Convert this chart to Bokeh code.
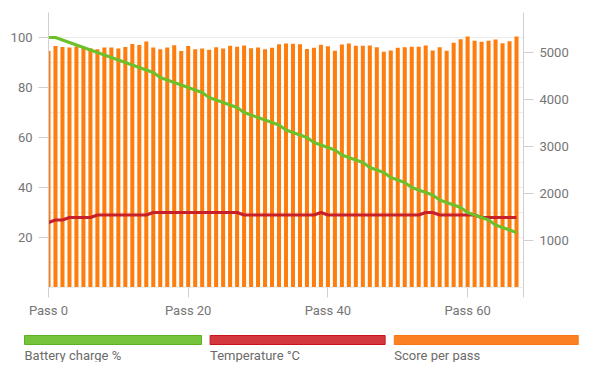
from bokeh.plotting import figure
from bokeh.models import Range1d, LinearAxis, FixedTicker
from bokeh.core.properties import value
from bokeh.embed import file_html
from bokeh.resources import INLINE

passes = list(range(68))
x_ticks = [0, 20, 40, 60]
x_tick_labels = ["Pass 0", "Pass 20", "Pass 40", "Pass 60"]
left_ticks = [20, 40, 60, 80, 100]
right_ticks = [1000, 2000, 3000, 4000, 5000]

battery = [100, 100, 99, 98, 97, 96, 95, 94, 93, 92, 91, 90, 89, 88, 87, 86,
           84, 83, 82, 81, 80, 79, 78, 76, 75, 74, 73, 72, 70, 69, 68, 67,
           66, 65, 63, 62, 61, 60, 58, 57, 56, 55, 53, 52, 51, 50, 48, 47,
           46, 44, 43, 42, 40, 39, 38, 37, 35, 34, 33, 32, 30, 29, 28, 27,
           25, 24, 23, 22]
temperature = [26, 27, 27, 28, 28, 28, 28, 29, 29, 29, 29, 29, 29, 29, 29, 30,
               30, 30, 30, 30, 30, 30, 30, 30, 30, 30, 30, 30, 29, 29, 29, 29,
               29, 29, 29, 29, 29, 29, 29, 30, 29, 29, 29, 29, 29, 29, 29, 29,
               29, 29, 29, 29, 29, 29, 30, 30, 29, 29, 29, 29, 29, 29, 28, 28,
               28, 28, 28, 28]
score = [5034, 5140, 5119, 5106, 5125, 5110, 5090, 5070, 5106, 5106, 5085, 5119,
         5183, 5162, 5234, 5106, 5070, 5106, 5155, 5034, 5140, 5070, 5085, 5056,
         5113, 5084, 5141, 5120, 5148, 5092, 5106, 5070, 5099, 5177, 5191, 5184,
         5177, 5077, 5099, 5163, 5134, 5035, 5170, 5191, 5141, 5141, 5148, 5113,
         5014, 5042, 5099, 5113, 5120, 5120, 5148, 5042, 5113, 5035, 5205, 5283,
         5340, 5248, 5227, 5248, 5276, 5198, 5240, 5340]

series_names = ["Battery charge %", "Temperature °C", "Score per pass"]

GREEN = "#6cc02a"
RED = "#c8202a"
ORANGE = "#fd7e0f"
AXIS = "#d0d0d0"
GRID = "#ebebeb"
LABEL = "#757575"
FONT = "Roboto"

p = figure(width=592, height=322, x_range=Range1d(0, 68), y_range=Range1d(0, 110),
           output_backend="svg", toolbar_location=None,
           min_border_left=48, min_border_right=69, min_border_top=12, min_border_bottom=35)
p.outline_line_color = None
p.background_fill_color = "white"
p.border_fill_color = "white"

p.extra_y_ranges = {"score": Range1d(0, 5851)}

# grid
p.xgrid.grid_line_color = None
p.ygrid.ticker = FixedTicker(ticks=left_ticks, minor_ticks=[0, 10, 30, 50, 70, 90, 110])
p.ygrid.grid_line_color = GRID
p.ygrid.minor_grid_line_color = GRID

# left axis
ya = p.yaxis[0]
ya.ticker = FixedTicker(ticks=left_ticks, minor_ticks=[])
ya.axis_line_color = AXIS
ya.major_tick_line_color = AXIS
ya.major_tick_out = 10
ya.major_tick_in = 0
ya.minor_tick_line_color = None
ya.major_label_text_color = LABEL
ya.major_label_text_font = FONT
ya.major_label_text_font_size = "13px"
ya.major_label_standoff = 6

# bottom axis
xa = p.xaxis[0]
xa.ticker = FixedTicker(ticks=x_ticks + [68], minor_ticks=[])
overrides = {t: l for t, l in zip(x_ticks, x_tick_labels)}
overrides[68] = ""
xa.major_label_overrides = overrides
xa.axis_line_color = GRID
xa.major_tick_line_color = AXIS
xa.major_tick_out = 10
xa.major_tick_in = 0
xa.minor_tick_line_color = None
xa.major_label_text_color = LABEL
xa.major_label_text_font = FONT
xa.major_label_text_font_size = "13px"
xa.major_label_standoff = 5

# right axis
ra = LinearAxis(y_range_name="score", ticker=FixedTicker(ticks=right_ticks, minor_ticks=[]))
ra.axis_line_color = AXIS
ra.major_tick_line_color = AXIS
ra.major_tick_out = 10
ra.major_tick_in = 0
ra.minor_tick_line_color = None
ra.major_label_text_color = LABEL
ra.major_label_text_font = FONT
ra.major_label_text_font_size = "13px"
ra.major_label_standoff = 6
p.add_layout(ra, "right")

# data
p.vbar(x=passes, top=score, width=0.58, y_range_name="score",
       fill_color=ORANGE, line_color=None)
p.line(passes, temperature, line_color=RED, line_width=3, line_join="round")
p.line(passes, battery, line_color=GREEN, line_width=3, line_join="round")

# legend strip
LH = 40
leg = figure(width=592, height=LH, x_range=Range1d(0, 592), y_range=Range1d(LH, 0),
             output_backend="svg", toolbar_location=None,
             min_border=0, min_border_left=0, min_border_right=0,
             min_border_top=0, min_border_bottom=0, x_axis_location=None, y_axis_location=None)
leg.grid.grid_line_color = None
leg.outline_line_color = None
leg.background_fill_color = "white"
leg.border_fill_color = "white"

sw_left = [24, 209.6, 393.8]
sw_right = [201, 384.6, 577.7]
sw_fill = ["#76c33c", "#d2383e", "#fb8024"]
sw_line = ["#5fb21f", "#c8151d", "#f97616"]
leg.quad(left=sw_left, right=sw_right, top=[13] * 3, bottom=[22] * 3,
         fill_color=sw_fill, line_color=sw_line, line_width=1)
leg.text(x=sw_left, y=[33] * 3, text=series_names,
         text_font=value(FONT), text_font_size="13px", text_color="#6b6b6b",
         text_baseline="alphabetic", text_align="left")

open("out.html", "w").write(file_html([p, leg], INLINE))
